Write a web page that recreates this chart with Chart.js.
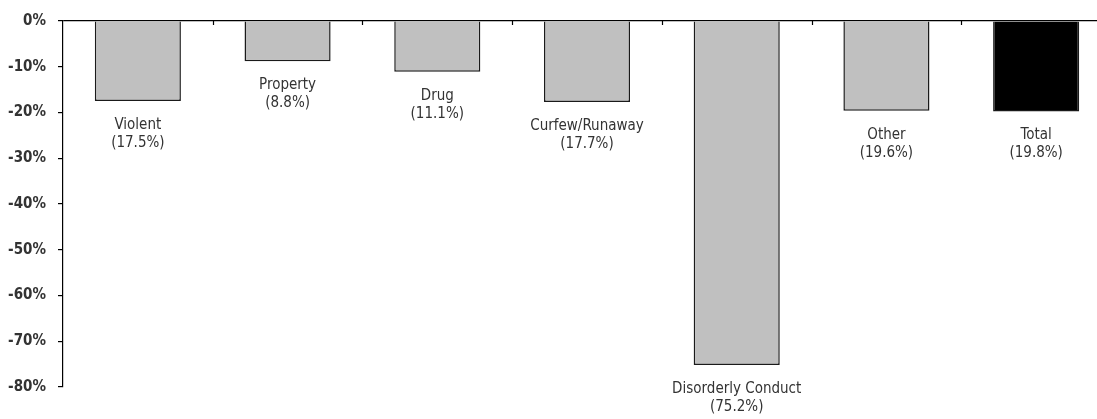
<!DOCTYPE html>
<html>
<head>
<meta charset="utf-8">
<script src="https://cdn.jsdelivr.net/npm/chart.js@4/dist/chart.umd.min.js"></script>
<style>
  html, body { margin: 0; padding: 0; background: #fff; overflow: hidden; }
  #wrap { position: relative; width: 1111px; height: 419px; }
</style>
</head>
<body>
<div id="wrap"><canvas id="chart"></canvas></div>
<script>
// categorias e variações (%)
const categories = ['Violent', 'Property', 'Drug', 'Curfew/Runaway', 'Disorderly Conduct', 'Other', 'Total'];
const changes = [-17.5, -8.8, -11.1, -17.7, -75.2, -19.6, -19.8];
const yTicks = [0, -10, -20, -30, -40, -50, -60, -70, -80];

const FONT = "'Liberation Sans Narrow', 'DejaVu Sans Condensed', 'Arial Narrow', sans-serif";

// rótulos abaixo de cada barra: nome + (valor%)
const barLabels = {
  id: 'barLabels',
  afterDatasetsDraw(chart) {
    const ctx = chart.ctx;
    const meta = chart.getDatasetMeta(0);
    ctx.save();
    ctx.fillStyle = '#333';
    ctx.font = '15px ' + FONT;
    ctx.textAlign = 'center';
    ctx.textBaseline = 'middle';
    meta.data.forEach((bar, i) => {
      const pct = '(' + Math.abs(changes[i]).toFixed(1) + '%)';
      ctx.fillText(categories[i], bar.x, bar.y + 24);
      ctx.fillText(pct, bar.x, bar.y + 42);
    });
    ctx.restore();
  }
};

// marcas do eixo x (entre categorias), voltadas para dentro
const xTickMarks = {
  id: 'xTickMarks',
  afterDatasetsDraw(chart) {
    const ctx = chart.ctx;
    const xs = chart.scales.x;
    const y0 = chart.scales.y.getPixelForValue(0);
    ctx.save();
    ctx.strokeStyle = '#000';
    ctx.lineWidth = 1.2;
    for (let i = 1; i < categories.length; i++) {
      const x = Math.round((xs.getPixelForValue(i - 1) + xs.getPixelForValue(i)) / 2) + 0.5;
      ctx.beginPath();
      ctx.moveTo(x, y0);
      ctx.lineTo(x, y0 + 4);
      ctx.stroke();
    }
    ctx.restore();
  }
};

new Chart(document.getElementById('chart').getContext('2d'), {
  type: 'bar',
  data: {
    labels: categories,
    datasets: [{
      data: changes,
      backgroundColor: categories.map(c => c === 'Total' ? '#000' : '#c0c0c0'),
      borderColor: '#1a1a1a',
      borderWidth: 1.5,
      categoryPercentage: 1,
      barPercentage: 0.575
    }]
  },
  options: {
    responsive: true,
    maintainAspectRatio: false,
    animation: false,
    layout: { padding: { top: 21, bottom: 32, left: 0, right: 0 } },
    plugins: { legend: { display: false }, tooltip: { enabled: false } },
    scales: {
      x: { display: false },
      y: {
        min: -80,
        max: 0,
        afterBuildTicks: s => { s.ticks = yTicks.map(v => ({ value: v })); },
        afterFit: s => { s.width = 63; },
        border: { display: true, color: '#000', width: 1.2 },
        grid: {
          drawOnChartArea: true,
          color: c => (c.tick && c.tick.value === 0) ? '#000' : 'rgba(0,0,0,0)',
          lineWidth: 1.2,
          tickColor: '#000',
          tickLength: 5
        },
        ticks: {
          padding: 12,
          color: '#333',
          font: { family: FONT, size: 15, weight: 'bold' },
          callback: v => v + '%'
        }
      }
    }
  },
  plugins: [barLabels, xTickMarks]
});
</script>
</body>
</html>
